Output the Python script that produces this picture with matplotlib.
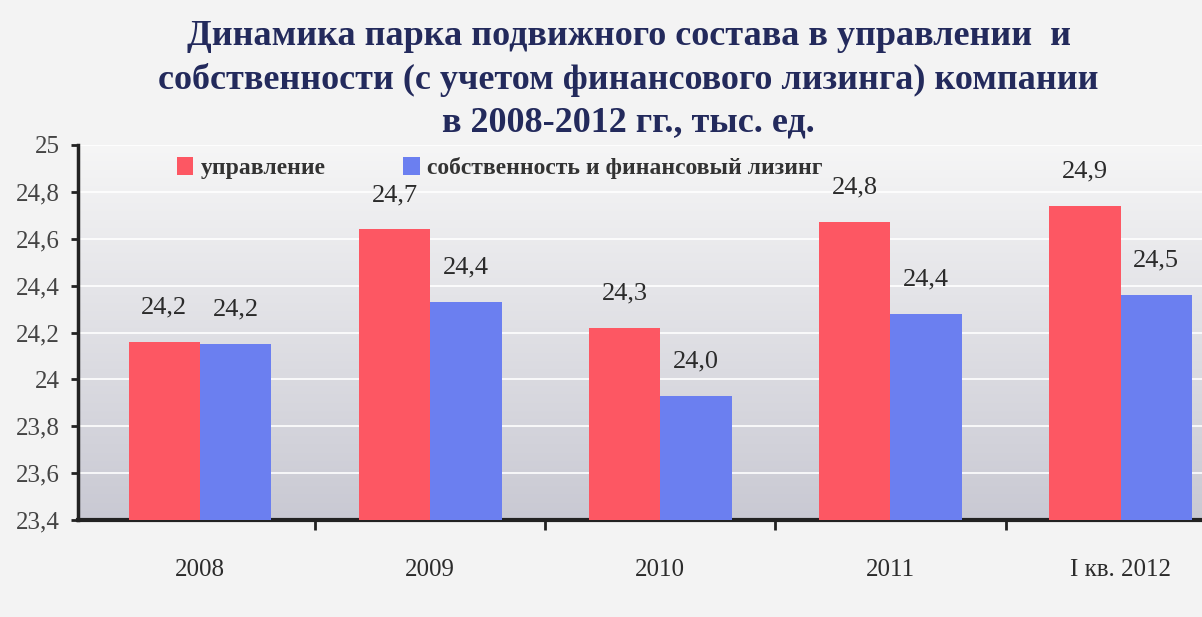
import numpy as np
import matplotlib
matplotlib.use("Agg")
import matplotlib.pyplot as plt

# Data
years = ["2008", "2009", "2010", "2011", "I кв. 2012"]
upravlenie = [24.16, 24.64, 24.22, 24.67, 24.74]
sobstv = [24.15, 24.33, 23.93, 24.28, 24.36]
upr_labels = ["24,2", "24,7", "24,3", "24,8", "24,9"]
sob_labels = ["24,2", "24,4", "24,0", "24,4", "24,5"]
yticks = [23.4, 23.6, 23.8, 24.0, 24.2, 24.4, 24.6, 24.8, 25.0]
ytick_labels = ["23,4", "23,6", "23,8", "24", "24,2", "24,4", "24,6", "24,8", "25"]

plt.rcParams['font.family'] = ['Liberation Serif', 'DejaVu Serif']

red = "#fd5763"
blue = "#6b7ff0"
txt = "#2b2b2b"

fig = plt.figure(figsize=(12.02, 6.17), dpi=100)
fig.patch.set_facecolor("#f3f3f3")
# axes run a bit past the right edge of the photo
ax = fig.add_axes([0.065, 0.157, 0.963, 0.608])

xmin, xmax = -0.53, 4.5
cmap = matplotlib.colors.LinearSegmentedColormap.from_list("bg", ["#c9c9d3", "#f6f6f6"])
ax.imshow(np.linspace(0, 1, 256).reshape(-1, 1), extent=[xmin, xmax, 23.4, 25.0],
          aspect="auto", cmap=cmap, origin="lower", zorder=0)

x = np.arange(len(years))
w = 0.31
ax.bar(x - w / 2, [v - 23.4 for v in upravlenie], w, bottom=23.4, color=red,
       label="управление", zorder=3)
ax.bar(x + w / 2, [v - 23.4 for v in sobstv], w, bottom=23.4, color=blue,
       label="собственность и финансовый лизинг", zorder=3)

for i in range(len(years)):
    ax.text(x[i] - w / 2, upravlenie[i] + 0.1, upr_labels[i], ha="center", va="bottom",
            fontsize=19, color=txt, zorder=4)
    ax.text(x[i] + w / 2, sobstv[i] + 0.1, sob_labels[i], ha="center", va="bottom",
            fontsize=19, color=txt, zorder=4)

ax.set_xlim(xmin, xmax)
ax.set_ylim(23.4, 25.0)
ax.set_yticks(yticks)
ax.set_yticklabels(ytick_labels, fontsize=18, color="#444444")
ax.set_xticks(x)
ax.set_xticklabels(years, fontsize=18, color=txt)
ax.set_xticks(np.arange(0.5, 4.5, 1), minor=True)
ax.tick_params(axis="x", which="major", length=0, pad=28)
ax.tick_params(axis="x", which="minor", length=7, width=2, color="#222222", direction="out")
ax.tick_params(axis="y", length=5, width=2, color="#222222", direction="out", pad=8)
ax.grid(axis="y", color="white", linewidth=1.2, zorder=1)

for s in ["top", "right"]:
    ax.spines[s].set_visible(False)
ax.spines["left"].set_linewidth(2.5)
ax.spines["left"].set_color("#222222")
ax.spines["bottom"].set_linewidth(3)
ax.spines["bottom"].set_color("#222222")

leg = ax.legend(loc="upper left", bbox_to_anchor=(0.067, 1.025), ncol=2, frameon=False,
                fontsize=17, handlelength=0.7, handleheight=0.8, handletextpad=0.3,
                columnspacing=3.3)
for t in leg.get_texts():
    t.set_fontweight("bold")
    t.set_color("#333333")

fig.text(0.523, 1 - 20 / 617,
         "Динамика парка подвижного состава в управлении  и\n"
         "собственности (с учетом финансового лизинга) компании\n"
         "в 2008-2012 гг., тыс. ед.",
         ha="center", va="top", fontsize=26, fontweight="bold", color="#232a5c",
         linespacing=1.38)

fig.savefig("out.png", dpi=100, facecolor=fig.get_facecolor())
